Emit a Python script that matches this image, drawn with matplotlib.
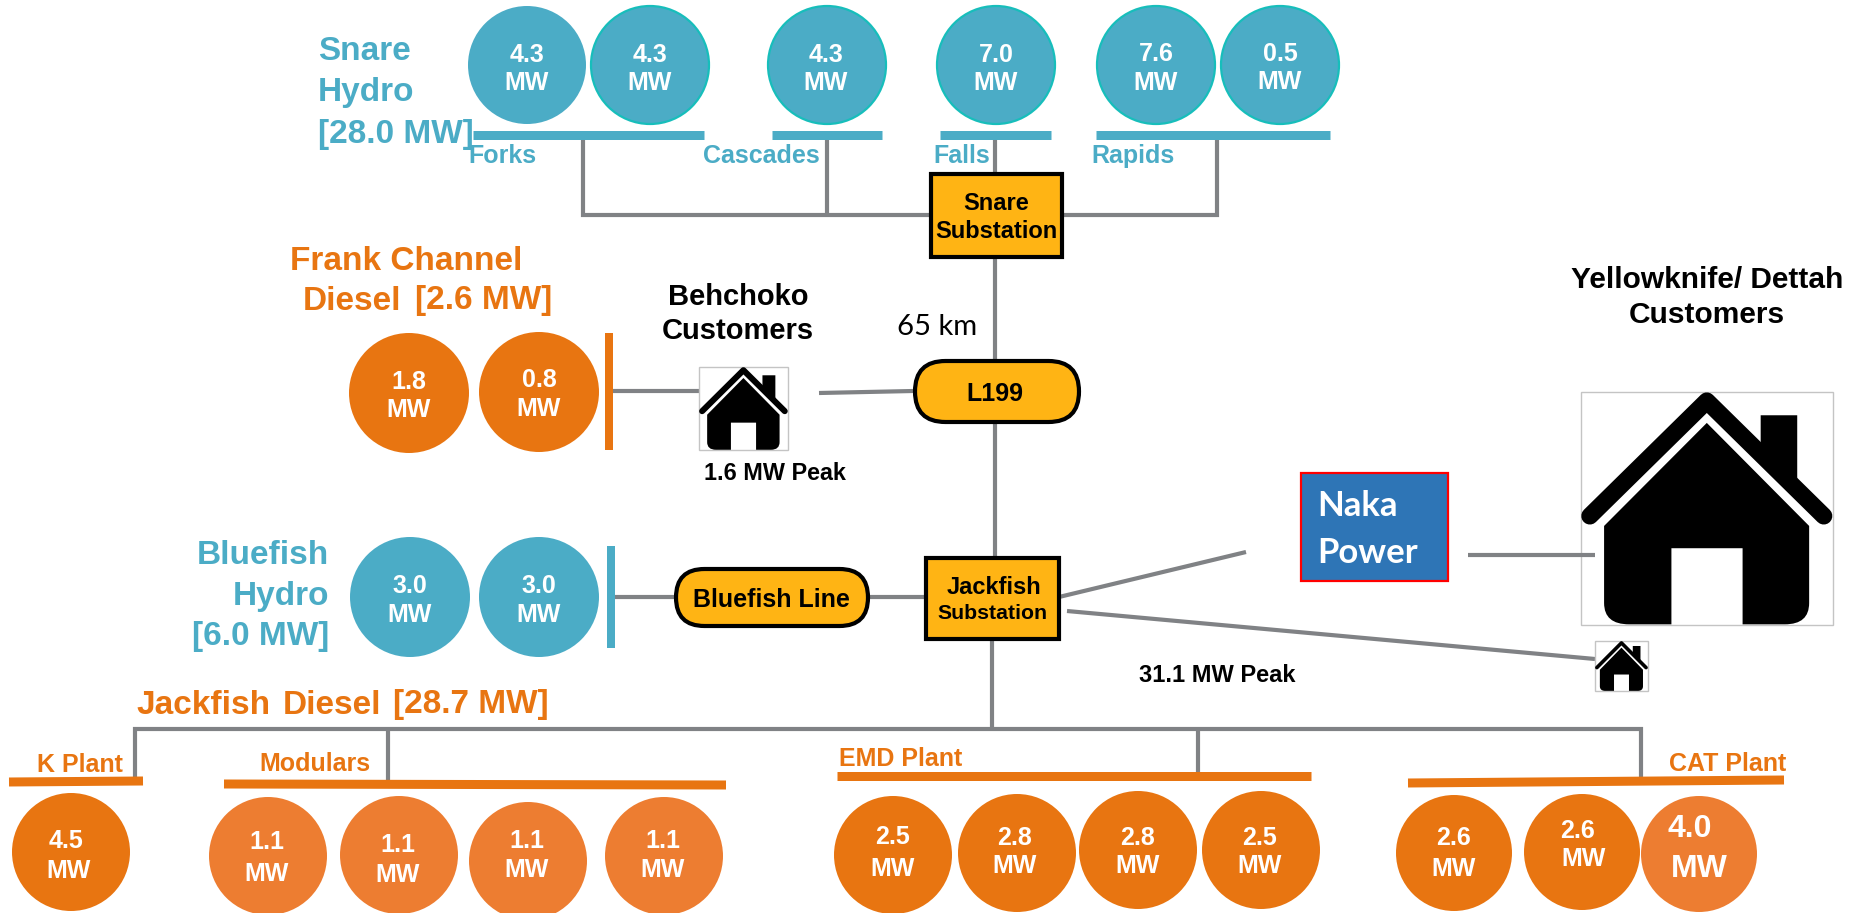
import matplotlib
matplotlib.use('Agg')
import matplotlib.pyplot as plt
from matplotlib.patches import Circle, Rectangle, FancyBboxPatch, PathPatch
from matplotlib.path import Path

# Generating capacity, MW
snare_mw = [4.3, 4.3, 4.3, 7.0, 7.6, 0.5]
frank_mw = [1.8, 0.8]
bluefish_mw = [3.0, 3.0]
k_plant_mw = [4.5]
modular_mw = [1.1, 1.1, 1.1, 1.1]
emd_mw = [2.5, 2.8, 2.8, 2.5]
cat_mw = [2.6, 2.6, 4.0]

# Labels
snare_sites = ['Forks', 'Cascades', 'Falls', 'Rapids']
diesel_plants = ['K Plant', 'Modulars', 'EMD Plant', 'CAT Plant']

TEAL = '#4BACC6'
RIM = '#17BEBB'
ORANGE = '#E87511'
LIGHT_ORANGE = '#ED7D31'
AMBER = '#FFB414'
GREY = '#808285'
FONT = 'Liberation Sans'

fig = plt.figure(figsize=(18.54, 9.13), dpi=100)
ax = fig.add_axes([0, 0, 1, 1])
ax.set_xlim(0, 1854)
ax.set_ylim(913, 0)
ax.axis('off')


def put(x, y, s, size, color='black', ha='center', weight='bold', family=FONT):
    # y is the middle of the capital letters, in pixels
    ax.text(x, y + 0.345 * size * 100 / 72, s, fontsize=size, color=color, ha=ha, va='baseline',
            fontweight=weight, family=family, zorder=6)


def wire(xs, ys, z=1):
    ax.plot(xs, ys, color=GREY, lw=3, solid_capstyle='butt', solid_joinstyle='miter', zorder=z)


def bar(x0, y0, x1, y1, color, width=9):
    ax.plot([x0, x1], [y0, y1], color=color, lw=width * 0.72, solid_capstyle='butt', zorder=2)


def unit(x, y, r, mw, xn, yn, xm, ym, color, rim=None, size=18):
    ax.add_patch(Circle((x, y), r, fc=color, ec=rim if rim else color, lw=1.6 if rim else 0, zorder=3))
    put(xn, yn, f'{mw:.1f}', size, 'white')
    put(xm, ym, 'MW', size, 'white')


def house_path(x0, y0, w, h):
    # outline traced from the big icon, then scaled into the box
    nx = lambda v: x0 + (v - 860) / 655 * w
    ny = lambda v: y0 + (v - 365) / 701 * h
    pts = [(1187, 458), (1453, 768), (1453, 1000), (1453, 1064), (1390, 1064), (1280, 1064),
           (1280, 835), (1095, 835), (1095, 1064), (985, 1064), (920, 1064), (920, 1000),
           (920, 768), (1187, 458)]
    codes = [Path.MOVETO, Path.LINETO, Path.LINETO, Path.CURVE3, Path.CURVE3, Path.LINETO,
             Path.LINETO, Path.LINETO, Path.LINETO, Path.LINETO, Path.CURVE3, Path.CURVE3,
             Path.LINETO, Path.CLOSEPOLY]
    return Path([(nx(a), ny(b)) for a, b in pts], codes), nx, ny


def house(x0, y0, w, h):
    ax.add_patch(Rectangle((x0, y0), w, h, fc='white', ec='#C4C4C4', lw=1, zorder=2))
    body, nx, ny = house_path(x0, y0, w, h)
    ax.add_patch(PathPatch(body, fc='black', ec='none', zorder=3))
    ax.fill([nx(1327), nx(1422), nx(1422), nx(1327)], [ny(435), ny(435), ny(640), ny(530)], color='black', lw=0, zorder=3)
    ax.plot([nx(883), nx(1187), nx(1491)], [ny(738), ny(392), ny(738)], color='black', lw=w * 0.068 * 0.72,
            solid_capstyle='round', solid_joinstyle='round', zorder=4)


def pill(x0, y0, x1, y1):
    h = y1 - y0
    ax.add_patch(FancyBboxPatch((x0, y0), x1 - x0, h, boxstyle=f'round,pad=0,rounding_size={h / 2}',
                                fc=AMBER, ec='black', lw=3, zorder=4))


# Wires
wire([583, 583, 1217, 1217], [135, 215, 215, 135])
wire([827, 827], [135, 215])
wire([995, 995], [135, 172])
wire([995, 995], [258, 359])
wire([995, 995], [423, 556])
wire([613, 699], [391, 391])
wire([819, 913], [393, 391])
wire([615, 674], [597, 597])
wire([869, 925], [597, 597])
wire([1059, 1246], [597, 552])
wire([1067, 1595], [611, 659])
wire([1468, 1595], [555, 555], z=2.5)
wire([992, 992], [640, 729])
wire([135, 135, 1641, 1641], [777, 729, 729, 777])
wire([388, 388], [729, 781])
wire([1198, 1198], [729, 772])

# Snare Hydro
snare_x = [527, 650, 827, 996, 1156, 1280]
snare_text_x = [527, 650, 826, 996, 1156, 1280]
snare_num_y = [53, 53, 53, 53, 52, 52]
snare_mw_y = [81, 81, 81, 81, 81, 80]
for i, mw in enumerate(snare_mw):
    unit(snare_x[i], 65, 59, mw, snare_text_x[i], snare_num_y[i], snare_text_x[i], snare_mw_y[i],
         TEAL, rim=None if i == 0 else RIM)
bar(473, 135, 704, 135, TEAL)
bar(772, 135, 882, 135, TEAL)
bar(940, 135, 1051, 135, TEAL)
bar(1096, 135, 1330, 135, TEAL)
for name, x in zip(snare_sites, [468, 703, 933, 1091]):
    put(x, 154, name, 18, TEAL, ha='left')
for y, s in zip([48, 89, 131], ['Snare', 'Hydro', '[28.0 MW]']):
    put(318, y, s, 24, TEAL, ha='left')

# Frank Channel
for x, y, mw, ny_, my_ in zip([409, 539], [393, 392], frank_mw, [380, 378], [408, 407]):
    unit(x, y, 60, mw, x, ny_, x, my_, ORANGE)
bar(609, 333, 609, 450, ORANGE, width=8)
put(290, 258, 'Frank Channel', 24, ORANGE, ha='left')
put(303, 298, 'Diesel', 24, ORANGE, ha='left')
put(415, 298, '[2.6 MW]', 24, ORANGE, ha='left')

# Bluefish
for x, mw in zip([410, 539], bluefish_mw):
    unit(x, 597, 60, mw, x, 584, x, 613, TEAL)
bar(611, 546, 611, 648, TEAL, width=8)
for y, s in zip([552, 594, 633], ['Bluefish', 'Hydro', '[6.0 MW]']):
    put(329, y, s, 24, TEAL, ha='right')

# Jackfish Diesel
put(136, 702, 'Jackfish', 24, ORANGE, ha='left')
put(283, 702, 'Diesel', 24, ORANGE, ha='left')
put(393, 702, '[28.7 MW]', 24, ORANGE, ha='left')
unit(71, 852, 59, k_plant_mw[0], 66, 839, 69, 869, ORANGE)
mod_x = [268, 399, 528, 664]
mod_y = [856, 855, 861, 856]
mod_num_y = [840, 843, 839, 839]
mod_mw_y = [872, 873, 868, 868]
for i, mw in enumerate(modular_mw):
    unit(mod_x[i], mod_y[i], 59, mw, mod_x[i] - 1, mod_num_y[i], mod_x[i] - 1, mod_mw_y[i], LIGHT_ORANGE)
emd_x = [893, 1017, 1138, 1261]
emd_y = [855, 853, 850, 850]
emd_text_x = [893, 1015, 1138, 1260]
emd_num_y = [835, 836, 836, 836]
emd_mw_y = [867, 864, 864, 864]
for i, mw in enumerate(emd_mw):
    unit(emd_x[i], emd_y[i], 59, mw, emd_text_x[i], emd_num_y[i], emd_text_x[i], emd_mw_y[i], ORANGE)
unit(1454, 853, 58, cat_mw[0], 1454, 836, 1454, 867, ORANGE)
unit(1582, 852, 58, cat_mw[1], 1578, 829, 1584, 857, ORANGE)
unit(1699, 854, 58, cat_mw[2], 1690, 826, 1699, 866, LIGHT_ORANGE, size=23)
bar(9, 782, 143, 781, ORANGE)
bar(224, 784, 726, 785, ORANGE)
bar(837, 776, 1311, 776, ORANGE)
bar(1408, 783, 1784, 780, ORANGE)
put(37, 763, diesel_plants[0], 18, ORANGE, ha='left')
put(259, 762, diesel_plants[1], 18, ORANGE, ha='left')
put(839, 757, diesel_plants[2], 18, ORANGE, ha='left')
put(1786, 762, diesel_plants[3], 18, ORANGE, ha='right')

# Substations and lines
ax.add_patch(Rectangle((931, 174), 131, 83, fc=AMBER, ec='black', lw=3, zorder=4))
put(996, 202, 'Snare', 17)
put(996, 230, 'Substation', 17)
ax.add_patch(Rectangle((926, 558), 133, 81, fc=AMBER, ec='black', lw=3, zorder=4))
put(994, 586, 'Jackfish', 17)
put(993, 612, 'Substation', 15.3)
pill(915, 361, 1079, 422)
put(995, 392, 'L199', 18)
pill(676, 569, 868, 626)
put(771, 598, 'Bluefish Line', 18)

# Customers
house(699, 367, 89, 83)
house(1581, 392, 252, 233)
house(1595, 641, 53, 50)
put(738, 295, 'Behchoko', 21)
put(738, 329, 'Customers', 21)
put(775, 472, '1.6 MW Peak', 16.8)
put(1707, 278, 'Yellowknife/ Dettah', 21.5)
put(1707, 313, 'Customers', 21.5)
put(1217, 674, '31.1 MW Peak', 17)
put(937, 325, '65 km', 21, weight='normal', family='Lato')

# Naka Power
ax.add_patch(Rectangle((1301, 473), 147, 108, fc='#2E75B6', ec='#FF0000', lw=1.6, zorder=2))
put(1317, 504, 'Naka', 25, 'white', ha='left', family='Lato')
put(1317, 551, 'Power', 25, 'white', ha='left', family='Lato')

fig.savefig('out.png', dpi=100)
